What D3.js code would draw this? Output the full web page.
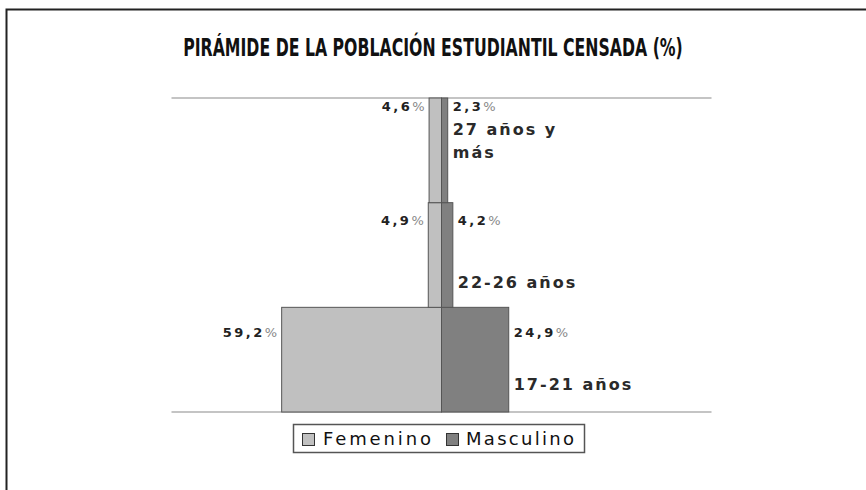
<!DOCTYPE html>
<meta charset="utf-8">
<style>
  body { margin: 0; background: #fff; }
  svg { font-family: "DejaVu Sans", sans-serif; }
  .title { font-family: "DejaVu Sans Condensed", "Liberation Sans Narrow", "DejaVu Sans", sans-serif; font-weight: bold; font-size: 25px; fill: #111; }
  .val { font-size: 13px; font-weight: bold; fill: #222; }
  .cat { font-size: 16px; font-weight: bold; fill: #2a2a2a; }
  .legend text { font-size: 18px; fill: #111; }
</style>
<body>
<script src="https://d3js.org/d3.v7.min.js"></script>
<script>

var categories = ["17-21 años", "22-26 años", "27 años y más"];
var femenino = [59.2, 4.9, 4.6];
var masculino = [24.9, 4.2, 2.3];
var seriesNames = ["Femenino", "Masculino"];
var title = "PIRÁMIDE DE LA POBLACIÓN ESTUDIANTIL CENSADA (%)";

var width = 866, height = 490;
var colors = ["#c0c0c0", "#808080"];

var svg = d3.select("body").append("svg")
    .attr("width", width)
    .attr("height", height);

// outer frame (runs off the right and bottom edges)
svg.append("path")
    .attr("d", "M6.5,490V9.5H866")
    .attr("fill", "none")
    .attr("stroke", "#222")
    .attr("stroke-width", 2);

// title, squeezed horizontally to the narrow width of the original
var tg = svg.append("g");
var tt = tg.append("text")
    .attr("class", "title")
    .attr("x", 0)
    .attr("y", 0)
    .attr("text-anchor", "middle")
    .text(title);
var tw = tt.node().getComputedTextLength();
tg.attr("transform", "translate(433,56) scale(" + (500 / tw) + ",1)");

var x = d3.scaleLinear().domain([-100, 100]).range([171.5, 711.5]);
var y = d3.scaleBand().domain(categories.slice().reverse()).range([98, 412]).padding(0);

var rows = categories.map(function(c, i) {
  return {cat: c, f: femenino[i], m: masculino[i]};
});

// plot area top / bottom lines
[98, 412].forEach(function(yy) {
  svg.append("line")
      .attr("x1", x(-100)).attr("x2", x(100))
      .attr("y1", yy).attr("y2", yy)
      .attr("stroke", "#c4c4c4")
      .attr("stroke-width", 2);
});

var bars = svg.append("g");
bars.selectAll("rect.f")
    .data(rows)
  .enter().append("rect")
    .attr("x", function(d) { return x(-d.f); })
    .attr("y", function(d) { return y(d.cat); })
    .attr("width", function(d) { return x(0) - x(-d.f); })
    .attr("height", y.bandwidth())
    .attr("fill", colors[0])
    .attr("stroke", "#555")
    .attr("stroke-width", 1);

bars.selectAll("rect.m")
    .data(rows)
  .enter().append("rect")
    .attr("x", x(0))
    .attr("y", function(d) { return y(d.cat); })
    .attr("width", function(d) { return x(d.m) - x(0); })
    .attr("height", y.bandwidth())
    .attr("fill", colors[1])
    .attr("stroke", "#555")
    .attr("stroke-width", 1);

function fmt(v) { return String(v.toFixed(1)).replace(".", ","); }

// label offsets from band top (layout only)
var valDy = [30, 22, 13];
var catDy = [[83], [85], [37, 60]];
var catLines = [["17-21 años"], ["22-26 años"], ["27 años y", "más"]];

var labels = svg.append("g");

rows.forEach(function(d, i) {
  var t0 = y(d.cat);
  var tf = labels.append("text")
      .attr("class", "val")
      .attr("x", x(-d.f) - 2)
      .attr("y", t0 + valDy[i])
      .attr("text-anchor", "end")
      .attr("letter-spacing", 2.5);
  tf.append("tspan").text(fmt(d.f));
  tf.append("tspan").attr("fill", "#888").attr("font-weight", "normal").text("%");

  var tm = labels.append("text")
      .attr("class", "val")
      .attr("x", x(d.m) + 5)
      .attr("y", t0 + valDy[i])
      .attr("letter-spacing", 2.5);
  tm.append("tspan").text(fmt(d.m));
  tm.append("tspan").attr("fill", "#888").attr("font-weight", "normal").text("%");

  catLines[i].forEach(function(line, k) {
    labels.append("text")
        .attr("class", "cat")
        .attr("x", x(d.m) + 5)
        .attr("y", t0 + catDy[i][k])
        .attr("letter-spacing", 2)
        .text(line);
  });
});

// legend
var lg = svg.append("g").attr("class", "legend");
lg.append("rect")
    .attr("x", 293.5).attr("y", 424.5)
    .attr("width", 291).attr("height", 28)
    .attr("fill", "#fff")
    .attr("stroke", "#555")
    .attr("stroke-width", 1.5);

var legX = [302, 446], legTextX = [323, 466];
seriesNames.forEach(function(n, i) {
  lg.append("rect")
      .attr("x", legX[i] + 0.5).attr("y", 433.5)
      .attr("width", 12).attr("height", 12)
      .attr("fill", colors[i])
      .attr("stroke", "#333");
  lg.append("text")
      .attr("x", legTextX[i])
      .attr("y", 445)
      .attr("textLength", 108)
      .attr("lengthAdjust", "spacing")
      .text(n);
});

</script>
</body>
